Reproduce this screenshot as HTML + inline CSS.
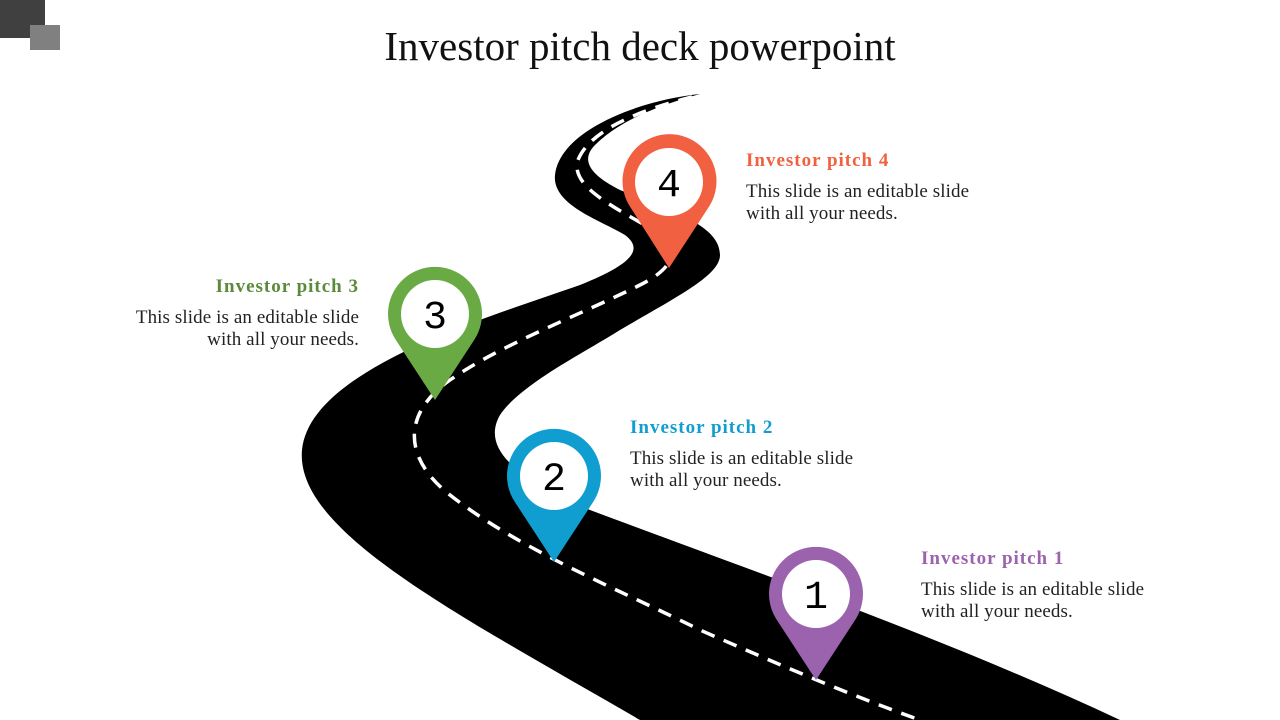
<!DOCTYPE html>
<html><head><meta charset="utf-8"><style>
body{margin:0;width:1280px;height:720px;overflow:hidden;background:#fff;position:relative;font-family:"Liberation Serif",serif}
.t{position:absolute;font-size:19px;line-height:22.5px;color:#222;letter-spacing:0.1px}
.t b{display:block;font-size:19px;margin-bottom:8px;letter-spacing:1px}
</style></head><body>
<div style="position:absolute;left:0;top:0;width:45px;height:38px;background:#404040"></div>
<div style="position:absolute;left:30px;top:25px;width:30px;height:25px;background:#808080"></div>
<div style="position:absolute;left:0;width:1280px;top:22px;text-align:center;font-size:41px;color:#111">Investor pitch deck powerpoint</div>
<svg width="1280" height="720" style="position:absolute;left:0;top:0">
<path d="M700,94 C640,100 560,130 555,175 C552,205 600,220 625,235 C645,250 630,265 580,285 C480,320 310,370 302,450 C295,530 450,610 640,720 L1120,720 C950,640 750,570 590,510 C520,480 480,450 500,415 C520,385 580,355 620,330 C680,295 720,275 720,255 C720,225 670,210 620,190 C590,175 580,160 595,145 C620,120 660,105 700,94 Z" fill="#000"/>
<path d="M692,97 C640,110 590,130 578,160 C570,185 610,205 650,228 C680,245 680,265 640,285 C580,315 500,345 450,380 C400,415 405,460 450,495 C520,550 620,590 700,630 C780,665 850,695 920,720" fill="none" stroke="#fff" stroke-width="3.5" stroke-dasharray="14 10"/>
<g font-family="Liberation Mono,monospace" font-size="40" text-anchor="middle">
<path d="M630.7,207.7 A47 47 0 1 1 708.3,207.7 L669,268 Z" fill="#f16040"/><circle cx="669" cy="182" r="34" fill="#fff"/><text x="669" y="196">4</text>
<path d="M395.7,339.7 A47 47 0 1 1 474.3,339.7 L435,400 Z" fill="#6aaa45"/><circle cx="435" cy="314" r="34" fill="#fff"/><text x="435" y="328">3</text>
<path d="M514.7,501.7 A47 47 0 1 1 593.3,501.7 L554,562 Z" fill="#109ed0"/><circle cx="554" cy="476" r="34" fill="#fff"/><text x="554" y="490">2</text>
<path d="M776.7,619.7 A47 47 0 1 1 855.3,619.7 L816,680 Z" fill="#9b63ad"/><circle cx="816" cy="594" r="34" fill="#fff"/><text x="816" y="608">1</text>
</g>
</svg>
<div class="t" style="left:746px;top:150px"><b style="color:#f16040">Investor pitch 4</b>This slide is an editable slide<br>with all your needs.</div>
<div class="t" style="left:60px;width:299px;text-align:right;top:276px"><b style="color:#5a8a3a">Investor pitch 3</b>This slide is an editable slide<br>with all your needs.</div>
<div class="t" style="left:630px;top:417px"><b style="color:#109ed0">Investor pitch 2</b>This slide is an editable slide<br>with all your needs.</div>
<div class="t" style="left:921px;top:548px"><b style="color:#9b63ad">Investor pitch 1</b>This slide is an editable slide<br>with all your needs.</div>
</body></html>
